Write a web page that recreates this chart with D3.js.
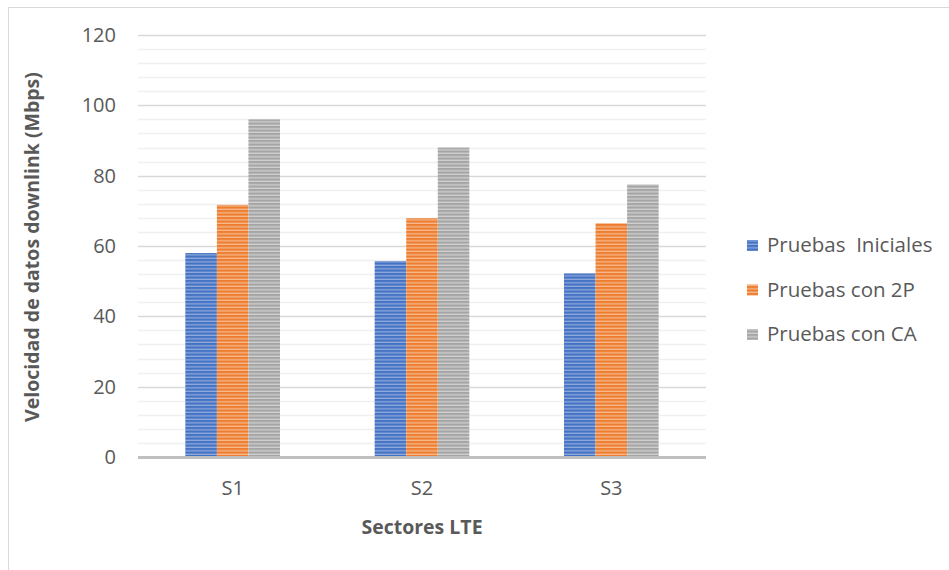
<!DOCTYPE html>
<html>
<head>
<meta charset="utf-8">
<script src="https://cdn.jsdelivr.net/npm/d3@7"></script>
<style>
  html, body { margin: 0; padding: 0; background: #fff; }
  svg { display: block; font-family: "Open Sans", "Liberation Sans", sans-serif; }
</style>
</head>
<body>
<svg id="chart" width="949" height="570"></svg>
<script>
// Downlink throughput per LTE sector
const sectors = ["S1", "S2", "S3"];
const seriesNames = ["Pruebas  Iniciales", "Pruebas con 2P", "Pruebas con CA"];
const iniciales = [58, 55.7, 52.2];
const con2P = [71.7, 67.9, 66.5];
const conCA = [96, 88, 77.5];
const yTicks = [0, 20, 40, 60, 80, 100, 120];

const seriesValues = [iniciales, con2P, conCA];
const colors = ["#4472C4", "#ED7D31", "#A5A5A5"];
const lightColors = ["#8FAADC", "#F8B98C", "#D0D0D0"];
const textColor = "#595959";

const svg = d3.select("#chart");
const W = 949, H = 570;
const plot = { left: 138, right: 706, top: 35, bottom: 457 };

// Outer frame
svg.append("rect")
  .attr("x", 8.5).attr("y", 7.5)
  .attr("width", W + 10).attr("height", H + 10)
  .attr("fill", "none").attr("stroke", "#d9d9d9").attr("stroke-width", 1);

// Striped fills
const defs = svg.append("defs");
colors.forEach((c, i) => {
  const p = defs.append("pattern")
    .attr("id", "stripe" + i)
    .attr("patternUnits", "userSpaceOnUse")
    .attr("width", 8).attr("height", 3.5);
  p.append("rect").attr("width", 8).attr("height", 3.5).attr("fill", c);
  p.append("rect").attr("y", 2.2).attr("width", 8).attr("height", 1.3).attr("fill", lightColors[i]);
});

const y = d3.scaleLinear().domain([0, 120]).range([plot.bottom, plot.top]);
const x0 = d3.scaleBand().domain(sectors).range([plot.left, plot.right]).paddingInner(0.5).paddingOuter(0.25);
const x1 = d3.scaleBand().domain(d3.range(seriesNames.length)).range([0, x0.bandwidth()]);

// Minor gridlines
const minor = d3.range(0, 121, 4).filter(v => v % 20 !== 0);
svg.append("g").selectAll("line").data(minor).join("line")
  .attr("x1", plot.left).attr("x2", plot.right)
  .attr("y1", d => Math.round(y(d)) + 0.5).attr("y2", d => Math.round(y(d)) + 0.5)
  .attr("stroke", "#f0f0f0").attr("stroke-width", 1.5);

// Major gridlines
svg.append("g").selectAll("line").data(yTicks.filter(v => v > 0)).join("line")
  .attr("x1", plot.left).attr("x2", plot.right)
  .attr("y1", d => Math.round(y(d)) + 0.5).attr("y2", d => Math.round(y(d)) + 0.5)
  .attr("stroke", "#d9d9d9").attr("stroke-width", 1.5);

// Bars
const groups = svg.append("g").selectAll("g").data(sectors).join("g")
  .attr("transform", d => `translate(${x0(d)},0)`);
groups.selectAll("rect")
  .data((d, i) => seriesValues.map((vals, s) => ({ s, v: vals[i] })))
  .join("rect")
  .attr("x", d => x1(d.s))
  .attr("width", x1.bandwidth())
  .attr("y", d => y(d.v))
  .attr("height", d => y(0) - y(d.v))
  .attr("fill", d => `url(#stripe${d.s})`);

// Baseline
svg.append("line")
  .attr("x1", plot.left).attr("x2", plot.right)
  .attr("y1", y(0) + 0.5).attr("y2", y(0) + 0.5)
  .attr("stroke", "#bfbfbf").attr("stroke-width", 3);

// Y axis tick labels
const yAxis = d3.axisLeft(y).tickValues(yTicks).tickSize(0).tickPadding(0);
const gy = svg.append("g").attr("transform", `translate(116,0)`).call(yAxis);
gy.select(".domain").remove();
gy.selectAll("text")
  .attr("fill", textColor).attr("font-size", 20)
  .attr("font-family", "Open Sans, Liberation Sans, sans-serif");

// X axis category labels
const xAxis = d3.axisBottom(x0).tickSize(0).tickPadding(0);
const gx = svg.append("g").attr("transform", `translate(0,481)`).call(xAxis);
gx.select(".domain").remove();
gx.selectAll("text")
  .attr("fill", textColor).attr("font-size", 20)
  .attr("font-family", "Open Sans, Liberation Sans, sans-serif");

// Axis titles
svg.append("text")
  .attr("x", (plot.left + plot.right) / 2).attr("y", 534)
  .attr("text-anchor", "middle")
  .attr("font-size", 19.5).attr("font-weight", "bold").attr("fill", textColor)
  .text("Sectores LTE");

svg.append("text")
  .attr("transform", `translate(39,${(plot.top + plot.bottom) / 2 + 1}) rotate(-90)`)
  .attr("text-anchor", "middle")
  .attr("font-size", 19.5).attr("font-weight", "bold").attr("fill", textColor)
  .text("Velocidad de datos downlink (Mbps)");

// Legend
const legend = svg.append("g").selectAll("g").data(seriesNames).join("g")
  .attr("transform", (d, i) => `translate(747,${245 + i * 44.5})`);
legend.append("rect")
  .attr("x", 0).attr("y", -5).attr("width", 11).attr("height", 11)
  .attr("fill", (d, i) => `url(#stripe${i})`);
legend.append("text")
  .attr("x", 20).attr("y", 0).attr("dy", "0.35em")
  .attr("font-size", 20.5).attr("fill", textColor)
  .attr("xml:space", "preserve")
  .style("white-space", "pre")
  .text(d => d);
</script>
</body>
</html>
